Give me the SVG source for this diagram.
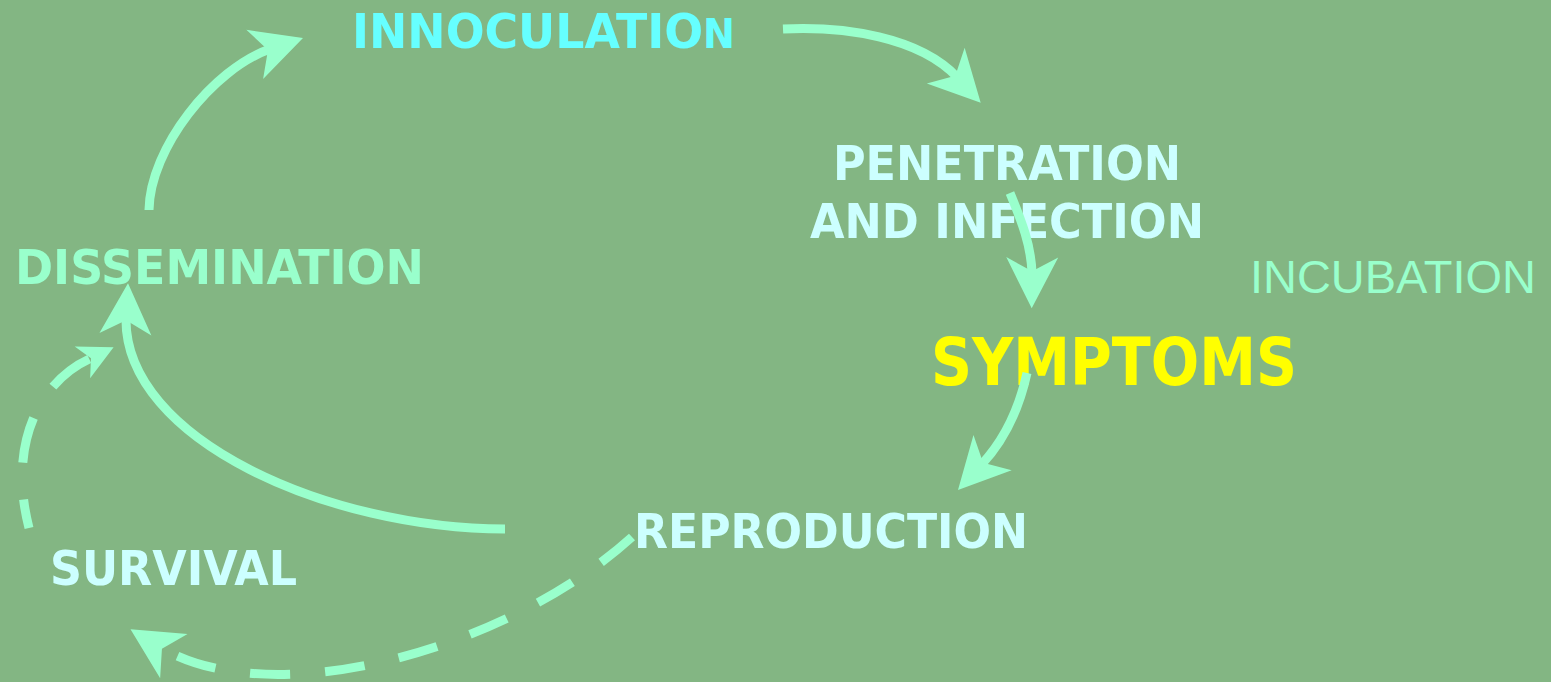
<svg xmlns="http://www.w3.org/2000/svg" xmlns:xlink="http://www.w3.org/1999/xlink" width="1551" height="682" viewBox="0 0 1551 682">
<style>
.lbl{font-family:"DejaVu Sans Condensed","DejaVu Sans",sans-serif;font-weight:bold;font-size:48px}
.pale{fill:#CCFFFF}
.mint{fill:#99FFCC}
.cyan{fill:#66FFFF}
.yel{fill:#FFFF00;font-size:66px}
.thin{font-family:"Liberation Sans",Arial,sans-serif;font-weight:normal;font-size:46px;fill:#99FFCC}
.ln{fill:none;stroke:#99FFCC;stroke-width:9}
.dash{stroke-dasharray:40 35}
.head{fill:#99FFCC}
</style>
<defs>
<path id="ah" d="M0,0 L-51,-26 L-37,0 L-51,26 Z"/>
</defs>
<rect width="1551" height="682" fill="#83B683"/>
<g id="innoculation"><text class="lbl cyan" x="352" y="48" textLength="383" lengthAdjust="spacingAndGlyphs">INNOCULATIO<tspan font-size="40">N</tspan></text></g>
<g id="penetration"><text class="lbl pale" x="833" y="180" textLength="348" lengthAdjust="spacingAndGlyphs">PENETRATION</text><text class="lbl pale" x="810" y="238" textLength="394" lengthAdjust="spacingAndGlyphs">AND INFECTION</text></g>
<g id="dissemination"><text class="lbl mint" x="15" y="284" textLength="409" lengthAdjust="spacingAndGlyphs">DISSEMINATION</text></g>
<g id="incubation"><text class="thin" x="1250" y="293" textLength="286" lengthAdjust="spacingAndGlyphs">INCUBATION</text></g>
<g id="symptoms"><text class="lbl yel" x="931" y="385" textLength="366" lengthAdjust="spacingAndGlyphs">SYMPTOMS</text></g>
<g id="reproduction"><text class="lbl pale" x="634" y="548" textLength="394" lengthAdjust="spacingAndGlyphs">REPRODUCTION</text></g>
<g id="survival"><text class="lbl pale" x="50" y="585" textLength="247" lengthAdjust="spacingAndGlyphs">SURVIVAL</text></g>
<g id="connectors">
<path class="ln" d="M149,210 C150,148 213,69 270,49"/>
<use href="#ah" xlink:href="#ah" class="head" transform="translate(303,38) rotate(-18.8)"/>
<path class="ln" d="M783,29 C845,26 919,37 957,77"/>
<use href="#ah" xlink:href="#ah" class="head" transform="translate(980.7,102.7) rotate(46.7)"/>
<path class="ln" d="M1010,193 C1022,222 1031,245 1032,273"/>
<use href="#ah" xlink:href="#ah" class="head" transform="translate(1031.7,308.3) rotate(90.6)"/>
<path class="ln" d="M1027,373 C1020,405 1005.6,438.6 981.8,464.3"/>
<use href="#ah" xlink:href="#ah" class="head" transform="translate(958,490) rotate(132.7)"/>
<path class="ln" d="M505,529 C330,529 124,440 126,318"/>
<use href="#ah" xlink:href="#ah" class="head" transform="translate(128,283.3) rotate(-87.1)"/>
<path class="ln dash" d="M632,537 C506,651 271,714 160,647"/>
<use href="#ah" xlink:href="#ah" class="head" transform="translate(130.5,629.3) rotate(-148.2)"/>
<path class="ln" style="stroke-dasharray:46 37;stroke-dashoffset:17" d="M29,528 C6.5,440 43,378 93,357.4"/>
<use href="#ah" xlink:href="#ah" class="head" transform="translate(113.6,347.3) rotate(-25.9) scale(0.68)"/>
</g>
</svg>
